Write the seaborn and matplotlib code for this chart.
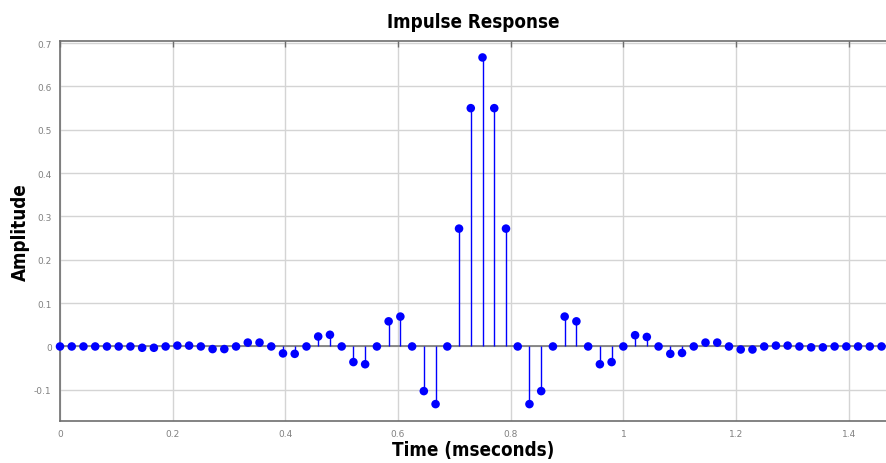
import numpy as np
import pandas as pd
import matplotlib
matplotlib.use("Agg")
import matplotlib.pyplot as plt
import seaborn as sns

# sample rate 48 kHz -> sample spacing in milliseconds
sample_rate_khz = 48
amplitude = [
    0.0, 0.0, 0.0, 0.0, 0.0, 0.0, 0.0, -0.003, -0.003, 0.0,
    0.002, 0.002, 0.0, -0.006, -0.006, 0.0, 0.009, 0.009, 0.0, -0.016,
    -0.017, 0.0, 0.023, 0.027, 0.0, -0.036, -0.041, 0.0, 0.058, 0.069,
    0.0, -0.103, -0.133, 0.0, 0.272, 0.55, 0.667, 0.55, 0.272, 0.0,
    -0.133, -0.103, 0.0, 0.069, 0.058, 0.0, -0.041, -0.036, 0.0, 0.026,
    0.022, 0.0, -0.017, -0.015, 0.0, 0.009, 0.009, 0.0, -0.007, -0.007,
    0.0, 0.002, 0.002, 0.0, -0.002, -0.002, 0.0, 0.0, 0.0, 0.0, 0.0,
]
sample_index = list(range(len(amplitude)))
x_ticks = [0, 0.2, 0.4, 0.6, 0.8, 1.0, 1.2, 1.4]
x_tick_labels = ["0", "0.2", "0.4", "0.6", "0.8", "1", "1.2", "1.4"]
y_ticks = [-0.1, 0, 0.1, 0.2, 0.3, 0.4, 0.5, 0.6, 0.7]
y_tick_labels = ["-0.1", "0", "0.1", "0.2", "0.3", "0.4", "0.5", "0.6", "0.7"]

df = pd.DataFrame({"time": np.array(sample_index) / sample_rate_khz,
                   "amp": amplitude})

sns.set_style("white")
fig = plt.figure(figsize=(8.87, 4.64), dpi=100)
ax = fig.add_axes([60 / 887, 42 / 464, 827 / 887, 380 / 464])

grid_c = "#d4d4d4"
spine_c = "#6e6e6e"
for v in x_ticks:
    ax.axvline(v, color=grid_c, lw=1.0, zorder=0)
for v in y_ticks:
    ax.axhline(v, color=grid_c, lw=1.0, zorder=0)

ax.vlines(df["time"], 0, df["amp"], color="#0000ff", lw=1.0, zorder=2)
ax.axhline(0, color="#777777", lw=1.2, zorder=1)
sns.scatterplot(data=df, x="time", y="amp", ax=ax, color="#0000ff",
                s=38, edgecolor="none", zorder=3, clip_on=False, legend=False)

ax.set_xlim(0, 1.468)
ax.set_ylim(-0.172, 0.705)
ax.set_xticks(x_ticks)
ax.set_xticklabels(x_tick_labels)
ax.set_yticks(y_ticks)
ax.set_yticklabels(y_tick_labels)
ax.tick_params(axis="both", direction="in", length=4, width=1.0,
               color=spine_c, labelcolor="#808080", labelsize=6.5,
               top=True, right=False, pad=6)
for s in ["left", "bottom", "top"]:
    ax.spines[s].set_color(spine_c)
    ax.spines[s].set_linewidth(1.2)
ax.spines["right"].set_visible(False)

lab_font = dict(family=["DejaVu Sans"], stretch="condensed",
                weight="bold", color="black")
ax.set_title("Impulse Response", fontsize=13.5, pad=10, **lab_font)
ax.set_xlabel("Time (mseconds)", fontsize=13.5, labelpad=1, **lab_font)
ax.set_ylabel("Amplitude", fontsize=13.5, labelpad=3, **lab_font)

fig.savefig("out.png", dpi=100)
